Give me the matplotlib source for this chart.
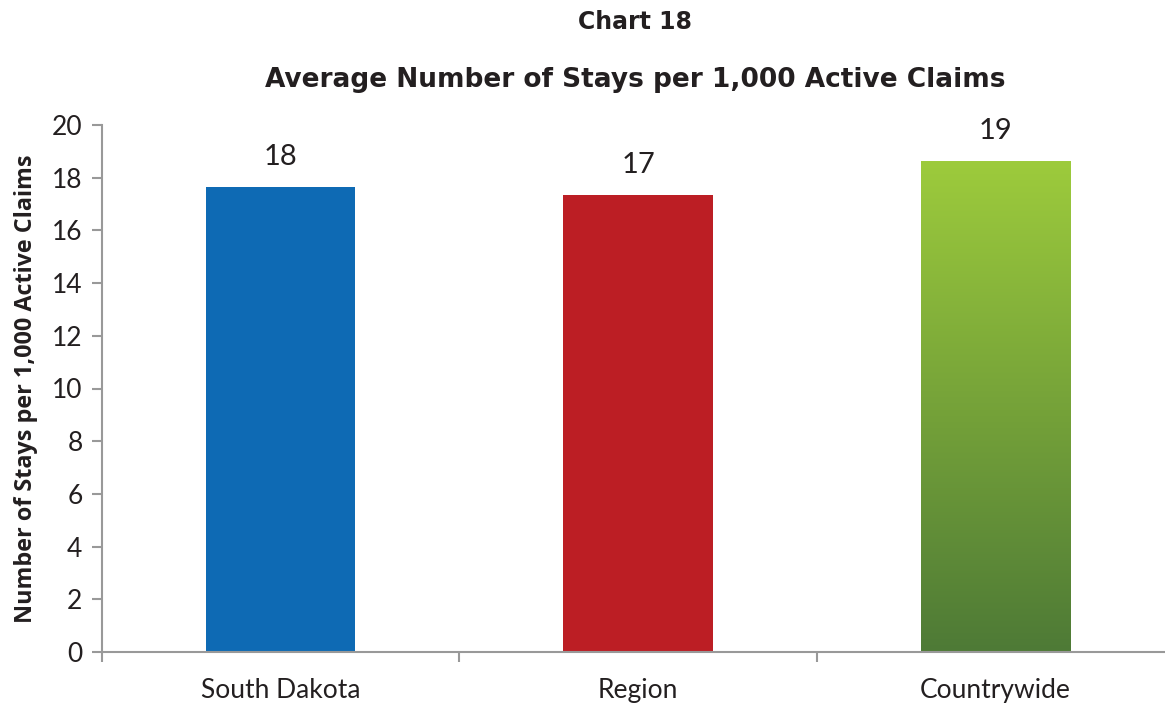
import numpy as np
import matplotlib.pyplot as plt
from matplotlib.colors import LinearSegmentedColormap

categories = ['South Dakota', 'Region', 'Countrywide']
values = [17.65, 17.34, 18.63]
labels = ['18', '17', '19']
colors = ['#0E6AB4', '#BC1E24', None]

fig = plt.figure(figsize=(11.65, 7.05), dpi=100)
ax = fig.add_axes([102 / 1165, 53 / 705, 1072 / 1165, 527 / 705])

x = np.arange(len(categories))
bars = ax.bar(x, values, width=0.417, color=[c if c else 'none' for c in colors],
              edgecolor='none', zorder=2)

# gradient fill for the countrywide bar
green = LinearSegmentedColormap.from_list('g', ['#4E7A36', '#9DCB3C'])
b = bars[2]
x0, w, h = b.get_x(), b.get_width(), b.get_height()
grad = np.linspace(0, 1, 256).reshape(-1, 1)
im = ax.imshow(grad, cmap=green, origin='lower', aspect='auto',
               extent=[x0, x0 + w, 0, h], zorder=2)
im.set_clip_path(b)

for xi, v, lab in zip(x, values, labels):
    ax.text(xi, v + 0.65, lab, ha='center', va='bottom', fontsize=21,
            family='Lato', color='#231F20')

ax.set_xlim(-0.5, 2.5)
ax.set_ylim(0, 20)
ax.set_yticks(range(0, 21, 2))
ax.set_xticks(x)
ax.set_xticklabels(categories, fontsize=19, family='Lato', color='#231F20')
ax.set_xticks([-0.5, 0.5, 1.5, 2.5], minor=True)
ax.tick_params(axis='x', which='major', length=0, pad=19)
ax.tick_params(axis='x', which='minor', length=7, color='#999999', width=1.5)
ax.tick_params(axis='y', length=7, color='#999999', width=1.5, pad=7)
for t in ax.get_yticklabels():
    t.set_fontsize(19)
    t.set_family('Lato')
    t.set_color('#231F20')

for s in ['top', 'right']:
    ax.spines[s].set_visible(False)
for s in ['left', 'bottom']:
    ax.spines[s].set_color('#999999')
    ax.spines[s].set_linewidth(1.5)

ax.set_ylabel('Number of Stays per 1,000 Active Claims', fontsize=16.8,
              fontweight='bold', family='Open Sans', color='#231F20', labelpad=10)

fig.text(635 / 1165, 1 - 22 / 705, 'Chart 18', ha='center', va='center',
         fontsize=17, fontweight='bold', family='DejaVu Sans', color='#231F20')
fig.text(635 / 1165, 1 - 80 / 705, 'Average Number of Stays per 1,000 Active Claims',
         ha='center', va='center', fontsize=19, fontweight='bold',
         family='DejaVu Sans', color='#231F20')

fig.savefig('out.png', dpi=100)
